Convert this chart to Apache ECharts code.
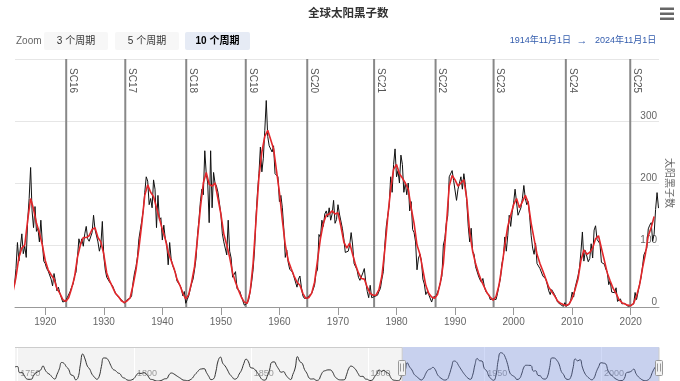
<!DOCTYPE html>
<html><head><meta charset="utf-8">
<script src="https://cdn.jsdelivr.net/npm/echarts@6/dist/echarts.min.js"></script>
<style>html,body{margin:0;padding:0;background:#fff}#c{width:680px;height:381px}</style>
</head><body><div id="c"></div>
<script>
const FONT = '"Liberation Sans", "Noto Sans CJK SC", sans-serif';
const chartTitle = '全球太阳黑子数';
const yAxisName = '太阳黑子数';
const zoomLabel = 'Zoom';
const zoomButtons = ['3 个周期', '5 个周期', '10 个周期'];
const selectedButton = 2;
const rangeFromText = '1914年11月1日';
const rangeToText = '2024年11月1日';
const viewStart = 1914 + 10 / 12;   // 1914-11-01
const viewEnd = 2024 + 10 / 12;     // 2024-11-01
const mainTicks = [1920, 1930, 1940, 1950, 1960, 1970, 1980, 1990, 2000, 2010, 2020];
const yTicks = [0, 100, 200, 300, 400];
const navTicks = [1750, 1800, 1850, 1900, 1950, 2000];
const navStart = 1749, navEnd = 2024 + 10 / 12;
const navYRange = [-57, 324];

const cycleNames = ['SC16', 'SC17', 'SC18', 'SC19', 'SC20', 'SC21', 'SC22', 'SC23', 'SC24', 'SC25'];
const cycleStarts = [1923.58, 1933.67, 1944.08, 1954.25, 1964.75, 1976.17, 1986.67, 1996.58, 2008.92, 2019.92];

// Monthly sunspot number, grouped to quarterly means; first value = 1914 Q4 (Oct 1914)
const monthlyStart = 1914.75, monthlyStep = 0.25;
const monthlyQuarterly = [
  35,
  62, 104, 74, 76,   118, 86, 98, 80,   140, 175, 225, 155,   128, 162, 122, 127,   105, 140, 104, 74,
  70, 62, 58, 61,    45, 34, 54, 41,    26, 32, 22, 15,       8, 6, 10, 15,         18, 25, 32, 37,
  50, 56, 80, 110,   100, 110, 98, 118, 130, 110, 106, 113,   120, 148, 125, 126,   105, 90, 100, 138,
  82, 60, 48, 48,    40, 38, 34, 28,    22, 20, 16, 16,       12, 10, 6, 9,         12, 15, 14, 18,
  40, 55, 65, 81,    110, 125, 140, 156, 185, 210, 203, 165,  175, 160, 205, 190,   128, 180, 140, 144,
  108, 132, 110, 102, 68, 104, 78, 67,  64, 55, 42, 42,       35, 30, 18, 25,       6, 12, 18, 28,
  38, 45, 60, 78,    115, 140, 170, 190, 181, 252, 215, 200,  136, 252, 160, 217,   200, 195, 185, 183,
  150, 118, 105, 103, 84, 140, 90, 79,  48, 45, 57, 30,       28, 25, 17, 10,       3, 5, 6, 12,
  25, 40, 60, 92,    145, 185, 215, 258, 218, 240, 285, 333,  275, 260, 262, 250,   260, 215, 215, 210,
  170, 180, 160, 126, 80, 92, 72, 61,   60, 56, 48, 50,       32, 45, 50, 32,       18, 14, 14, 14,
  18, 20, 22, 28,    35, 55, 60, 117,   112, 140, 130, 150,   155, 145, 160, 140,   150, 172, 135, 141,
  165, 150, 150, 127, 110, 88, 90, 90,  100, 120, 100, 70,    65, 60, 48, 43,       40, 55, 62, 40,
  25, 15, 35, 15,    18, 17, 20, 19,    25, 30, 45, 57,       100, 130, 130, 164,   210, 185, 230, 255,
  210, 220, 200, 245, 230, 185, 200, 181, 200, 155, 170, 125, 120, 105, 60, 79,     85, 75, 45, 37,
  20, 25, 20, 17,    8, 16, 18, 17,     15, 30, 40, 50,       100, 110, 135, 147,   210, 210, 220, 204,
  205, 172, 190, 200, 210, 190, 215, 198, 170, 130, 105, 127, 90, 85, 65, 64,       50, 44, 40, 46,
  33, 25, 22, 20,    12, 11, 13, 10,    12, 22, 35, 46,       70, 80, 113, 90,      115, 148, 130, 152,
  168, 190, 190, 148, 150, 160, 175, 196, 175, 165, 170, 145, 115, 95, 85, 103,     70, 68, 62, 61,
  50, 52, 45, 36,    26, 20, 28, 25,    20, 15, 8, 7,         4, 4, 1, 7,           1.6, 2.7, 4.1, 10.4,
  24, 16, 31, 29,    50, 63, 89, 121,   74, 91, 92, 73,       78, 102, 79, 124,     131, 109, 112, 102,
  72, 74, 69, 61,    56, 36, 42, 24,    23, 23, 31, 9,        7, 13, 5, 5,          6, 7, 1, 1,
  2.6, 3.7, 4.7, 23.4, 12, 24, 36, 46.6, 64, 84, 87, 95,      126, 132, 136, 106,   117.5, 157.3, 184.5, 159.5
];

// 13-month smoothed sunspot number, half-yearly; first value = Jul 1914
const smoothedStart = 1914.5, smoothedStep = 0.5;
const smoothedHalfYearly = [
  25,
  48, 80,   95, 100,  140, 175,  158, 135,  120, 100,  75, 60,   52, 45,   30, 22,   12, 9,    15, 30,
  48, 80,   100, 112, 112, 115,  125, 128,  112, 105,  85, 55,   42, 32,   22, 17,   10, 7,    10, 15,
  35, 60,   95, 135,  180, 197,  185, 178,  160, 143,  125, 110, 88, 75,   62, 45,   35, 22,   13, 20,
  40, 65,   110, 160, 200, 217,  198, 195,  200, 175,  150, 118, 100, 80,  55, 40,   27, 16,   8, 6,
  25, 70,   140, 210, 250, 275,  285, 270,  255, 220,  185, 140, 100, 75,  62, 50,   40, 35,   22, 14,
  15, 22,   40, 75,   110, 135,  148, 150,  155, 150,  152, 130, 105, 95,  103, 85,  68, 55,   46, 45,
  32, 22,   19, 19,   28, 50,    92, 145,   190, 222,  230, 215, 208, 200, 190, 160, 135, 100,  85, 60,
  35, 22,   16, 14,   20, 40,    70, 130,   195, 212,  205, 195, 200, 205, 175, 120, 90, 70,    55, 42,
  32, 22,   16, 11,   17, 35,    65, 100,   130, 148,  165, 175, 160, 170, 180, 168, 135, 110,  85, 70,
  58, 45,   32, 25,   18, 10,    6, 4,      2.5, 5,    14, 28,   45, 75,   92, 85,   88, 95,    110, 115,
  95, 75,   55, 42,   30, 22,    12, 7,     5, 3,      2, 6,     18, 35,   62, 85,   115, 128,  146
];

// Navigator: yearly mean sunspot number 1749 - 2024
const navYearStart = 1749;
const yearlyMeans = [
  134.7,
  139.0, 79.5, 79.7, 51.2, 20.3, 16.0, 17.0, 54.0, 79.3, 90.0,
  104.8, 143.2, 102.0, 75.2, 60.7, 34.8, 19.0, 63.0, 116.3, 176.8,
  168.0, 136.0, 110.8, 58.0, 51.0, 11.7, 33.0, 154.2, 257.3, 209.8,
  141.3, 113.5, 64.2, 38.0, 17.0, 40.2, 138.2, 220.0, 218.2, 196.8,
  149.8, 111.0, 100.0, 78.2, 68.3, 35.5, 26.7, 10.7, 6.8, 11.3,
  24.2, 56.7, 75.0, 71.8, 79.2, 70.3, 46.8, 16.8, 13.5, 4.2,
  0.0, 2.3, 8.3, 20.3, 23.2, 59.0, 76.3, 68.3, 52.9, 38.5,
  24.2, 9.2, 6.3, 2.2, 11.4, 28.2, 59.9, 83.0, 108.5, 115.2,
  117.4, 80.8, 44.3, 13.4, 19.5, 85.8, 192.7, 227.3, 168.7, 143.0,
  105.5, 63.3, 40.3, 18.1, 25.1, 65.8, 102.7, 166.3, 208.3, 182.5,
  126.3, 122.0, 102.7, 74.1, 39.0, 12.7, 8.2, 43.4, 104.4, 178.3,
  182.2, 146.6, 112.1, 83.5, 89.2, 57.8, 30.7, 13.9, 62.8, 123.6,
  232.0, 185.3, 169.2, 110.1, 74.5, 28.3, 18.9, 20.7, 5.7, 10.0,
  53.7, 90.5, 99.0, 106.1, 105.8, 86.3, 42.4, 21.8, 11.2, 10.4,
  11.8, 59.5, 121.7, 142.0, 130.0, 106.6, 69.4, 43.8, 44.4, 20.2,
  15.7, 4.6, 8.5, 40.8, 70.1, 105.5, 90.1, 102.8, 80.9, 73.2,
  30.9, 9.5, 6.0, 2.4, 16.1, 79.0, 95.0, 173.6, 134.6, 105.7,
  62.7, 43.5, 23.7, 9.7, 27.9, 74.0, 106.5, 114.7, 129.7, 108.2,
  59.4, 35.1, 18.6, 9.2, 14.6, 60.2, 132.8, 190.6, 182.6, 148.0,
  113.0, 79.2, 50.8, 27.1, 16.1, 55.3, 154.3, 214.7, 193.0, 190.7,
  118.9, 98.3, 45.0, 20.1, 6.6, 54.2, 200.7, 269.3, 261.7, 225.1,
  159.0, 76.4, 53.4, 39.9, 15.0, 22.0, 66.8, 132.9, 150.0, 149.4,
  148.0, 94.4, 97.6, 54.1, 49.2, 22.5, 18.4, 39.3, 131.0, 220.1,
  218.9, 198.9, 162.4, 91.0, 60.5, 20.6, 14.8, 33.9, 123.0, 211.1,
  191.8, 203.3, 133.0, 76.1, 44.9, 25.1, 11.6, 28.9, 88.3, 136.3,
  173.9, 170.4, 163.6, 99.3, 65.3, 45.8, 24.7, 12.6, 4.2, 4.8,
  24.9, 80.8, 84.5, 94.0, 113.3, 69.8, 39.8, 21.7, 7.0, 3.6,
  8.8, 29.6, 83.2, 125.5, 154.7
];

const monthlyData = monthlyQuarterly.map((v, i) => [monthlyStart + i * monthlyStep, v]);
const smoothedData = smoothedHalfYearly.map((v, i) => [smoothedStart + i * smoothedStep, v]);
const navData = yearlyMeans.map((v, i) => [navYearStart + i, v]);

const chart = echarts.init(document.getElementById('c'));

const buttonBoxes = [[44, 32, 64, 18], [115, 32, 64, 18], [185, 32, 65, 18]];
const graphics = [
  { type: 'text', left: 16, top: 36, style: { text: zoomLabel, fill: '#666', font: '10px ' + FONT } }
];
zoomButtons.forEach((b, i) => {
  const [x, y, w, h] = buttonBoxes[i];
  graphics.push({ type: 'rect', left: x, top: y, shape: { width: w, height: h, r: 2 },
    style: { fill: i === selectedButton ? '#e6ebf5' : '#f7f7f7' } });
  graphics.push({ type: 'text', x: x + w / 2, y: y + h / 2,
    style: { text: b, fill: i === selectedButton ? '#000' : '#333', align: 'center', verticalAlign: 'middle',
      font: (i === selectedButton ? 'bold ' : '') + '10px ' + FONT } });
});
graphics.push({ type: 'text', x: 571, y: 41, style: { text: rangeFromText, fill: '#335cad', align: 'right', verticalAlign: 'middle', font: '9px ' + FONT } });
graphics.push({ type: 'text', x: 582, y: 41, style: { text: '→', fill: '#335cad', align: 'center', verticalAlign: 'middle', font: '11px ' + FONT } });
graphics.push({ type: 'text', x: 595, y: 41, style: { text: rangeToText, fill: '#335cad', align: 'left', verticalAlign: 'middle', font: '9px ' + FONT } });
[9, 14, 19].forEach(yy => graphics.push({ type: 'rect', left: 660, top: yy - 1.5, shape: { width: 14, height: 2.5 }, style: { fill: '#666' } }));
// y-axis title (rotated, right side)
graphics.push({ type: 'text', x: 669, y: 183, rotation: -Math.PI / 2,
  style: { text: yAxisName, fill: '#666', font: '10px ' + FONT, align: 'center', verticalAlign: 'middle' } });

const option = {
  animation: false,
  textStyle: { fontFamily: FONT },
  title: { text: chartTitle, left: 303, top: 3, textStyle: { fontSize: 11.5, fontWeight: 'bold', color: '#333', fontFamily: FONT } },
  graphic: graphics,
  grid: [
    { left: 15, right: 21, top: 59, height: 248, outerBoundsMode: 'none' },
    { left: 15, right: 21, top: 347, height: 40, outerBoundsMode: 'none', show: true, backgroundColor: '#f3f3f3', borderWidth: 0 }
  ],
  xAxis: [
    { gridIndex: 0, type: 'value', min: viewStart, max: viewEnd,
      axisLine: { lineStyle: { color: '#999', width: 1 } },
      axisTick: { customValues: mainTicks, length: 8, lineStyle: { color: '#999' } },
      axisLabel: { customValues: mainTicks, color: '#666', fontSize: 10, margin: 10, formatter: v => String(Math.round(v)) },
      splitLine: { show: false } },
    { gridIndex: 1, type: 'value', min: navStart, max: navEnd,
      axisLine: { show: false }, axisTick: { show: false, customValues: navTicks },
      axisLabel: { customValues: navTicks, inside: true, margin: 9, color: '#999', fontSize: 9, align: 'left', padding: [0, 0, 0, 3], formatter: v => String(Math.round(v)) },
      splitLine: { show: false } }
  ],
  yAxis: [
    { gridIndex: 0, type: 'value', position: 'right', min: 0, max: 400, interval: 100,
      axisLine: { show: false }, axisTick: { show: false },
      axisLabel: { inside: true, margin: 2, color: '#666', fontSize: 10, verticalAlign: 'bottom', formatter: v => v === 400 ? '' : String(v) },
      splitLine: { lineStyle: { color: '#e6e6e6' } } },
    { gridIndex: 1, type: 'value', min: navYRange[0], max: navYRange[1], show: false }
  ],
  series: [
    { type: 'custom', xAxisIndex: 0, yAxisIndex: 0, z: 1, silent: true,
      data: cycleStarts.map((x, i) => [x, i]),
      renderItem: (params, api) => {
        const x = api.value(0), i = api.value(1);
        const top = api.coord([x, 400]), bot = api.coord([x, 0]);
        return { type: 'group', children: [
          { type: 'line', shape: { x1: top[0], y1: top[1], x2: bot[0], y2: bot[1] }, style: { stroke: '#888', lineWidth: 2 } },
          { type: 'text', x: top[0] + 1.5, y: top[1] + 9, rotation: -Math.PI / 2,
            style: { text: cycleNames[i], fill: '#555', font: '10px ' + FONT, align: 'left', verticalAlign: 'bottom' } }
        ] };
      } },
    { type: 'line', name: '月均值', xAxisIndex: 0, yAxisIndex: 0, z: 2, data: monthlyData, showSymbol: false,
      lineStyle: { color: '#111', width: 1 } },
    { type: 'line', name: '13个月平滑值', xAxisIndex: 0, yAxisIndex: 0, z: 3, data: smoothedData, showSymbol: false,
      lineStyle: { color: '#e3262a', width: 1.6 } },
    // navigator gridlines
    { type: 'custom', xAxisIndex: 1, yAxisIndex: 1, z: 1, silent: true,
      data: navTicks.map(t => [t]),
      renderItem: (params, api) => {
        const cs = params.coordSys; const p = api.coord([api.value(0), 0]);
        return { type: 'line', shape: { x1: Math.round(p[0]) + 0.5, y1: cs.y, x2: Math.round(p[0]) + 0.5, y2: cs.y + cs.height }, style: { stroke: '#ffffff', lineWidth: 1 } };
      } },
    { type: 'line', xAxisIndex: 1, yAxisIndex: 1, z: 2, data: navData, showSymbol: false, smooth: true,
      lineStyle: { color: '#333', width: 1 } },
    // navigator mask, outline and handles
    { type: 'custom', xAxisIndex: 1, yAxisIndex: 1, z: 5, silent: true,
      data: [[viewStart, viewEnd]],
      renderItem: (params, api) => {
        const cs = params.coordSys;
        const x0 = api.coord([api.value(0), 0])[0], x1 = api.coord([api.value(1), 0])[0];
        const top = cs.y, h = cs.height, cy = top + h / 2;
        const handle = (x) => ({ type: 'group', children: [
          { type: 'rect', shape: { x: Math.round(x) - 3.5, y: Math.round(cy - 7.5) + 0.5, width: 7, height: 15, r: 1 }, style: { fill: '#f2f2f2', stroke: '#999', lineWidth: 1 } },
          { type: 'line', shape: { x1: Math.round(x) - 1.5, y1: cy - 3.5, x2: Math.round(x) - 1.5, y2: cy + 4.5 }, style: { stroke: '#999', lineWidth: 1 } },
          { type: 'line', shape: { x1: Math.round(x) + 1.5, y1: cy - 3.5, x2: Math.round(x) + 1.5, y2: cy + 4.5 }, style: { stroke: '#999', lineWidth: 1 } }
        ] });
        return { type: 'group', children: [
          { type: 'rect', shape: { x: x0, y: top, width: x1 - x0, height: h }, style: { fill: 'rgba(102,133,230,0.3)' } },
          { type: 'polyline', shape: { points: [[cs.x, top + 0.5], [x0, top + 0.5], [x0, top + h], [x1, top + h], [x1, top + 0.5], [cs.x + cs.width, top + 0.5]] }, style: { stroke: '#ccc', lineWidth: 1, fill: null } },
          handle(x0), handle(x1)
        ] };
      } }
  ]
};
chart.setOption(option);
</script>
</body></html>
